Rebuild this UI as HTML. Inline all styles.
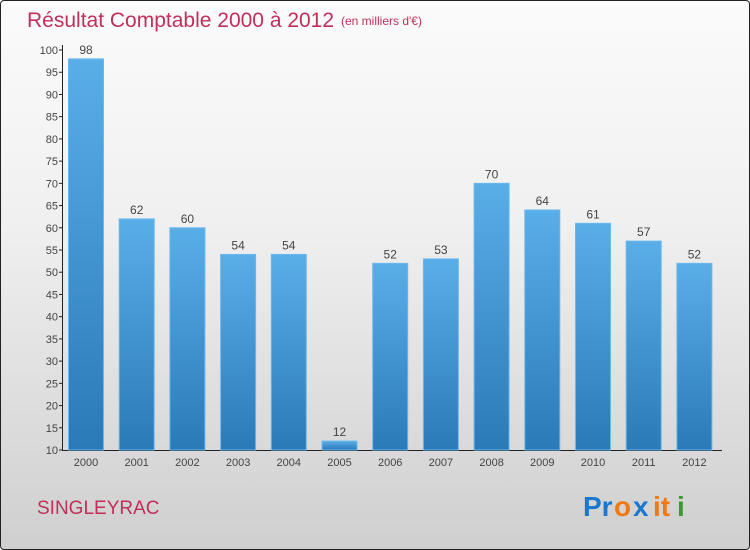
<!DOCTYPE html>
<html><head><meta charset="utf-8"><style>
body{margin:0}
#c{position:relative;width:748px;height:548px;border:1px solid #222;border-radius:4px;background:linear-gradient(#fbfbfb,#f0f0f0 40%,#cfcfcf);overflow:hidden;font-family:"Liberation Sans",sans-serif}
</style></head><body>
<div id="c">
<svg width="748" height="548">
<defs><linearGradient id="g" x1="0" y1="0" x2="0" y2="1"><stop offset="0" stop-color="#5aaee8"/><stop offset="1" stop-color="#2a7ab8"/></linearGradient></defs>
<text x="26" y="26" font-size="21" fill="#c0305a">Résultat Comptable 2000 à 2012</text>
<text x="340" y="24" font-size="12" fill="#c0305a">(en milliers d'€)</text>
<g id="ax"></g><g id="bars"></g>
<text x="36" y="513" font-size="19" fill="#c0305a">SINGLEYRAC</text>
<g font-size="28" font-weight="bold"><text x="582" y="515" fill="#1a78d0">Pr</text><text x="613" y="515" fill="#f07a10">o</text><text x="632" y="515" fill="#1a78d0">x</text><text x="652" y="515" fill="#f07a10">it</text><text x="676" y="515" fill="#3a9a30">i</text></g>
</svg></div>
<script>
const years=["2000","2001","2002","2003","2004","2005","2006","2007","2008","2009","2010","2011","2012"];
const values=[98,62,60,54,54,12,52,53,70,64,61,57,52];
const yTicks=[10,15,20,25,30,35,40,45,50,55,60,65,70,75,80,85,90,95,100];
const NS="http://www.w3.org/2000/svg";
const y=v=>449-(v-10)*400/90;
const x=i=>84.5+i*50.7;
function mk(t,a,p,txt){const e=document.createElementNS(NS,t);for(const k in a)e.setAttribute(k,a[k]);if(txt!==undefined)e.textContent=txt;p.appendChild(e);return e;}
const ax=document.getElementById('ax'),bars=document.getElementById('bars');
let l=mk('line',{x1:61.5,y1:44,x2:61.5,y2:450,stroke:'#222'},ax);


l=mk('line',{x1:61,y1:449.5,x2:721,y2:449.5,stroke:'#222'},ax);


yTicks.forEach(v=>{
 mk('line',{x1:58,x2:62,y1:y(v),y2:y(v),stroke:'#222'},ax);
 const t=mk('text',{x:57,y:y(v)+4,'font-size':11,fill:'#444','text-anchor':'end'},ax,v);
 
 
});
years.forEach((yr,i)=>{
 const v=values[i];
 const r=mk('rect',{x:x(i)-17,y:y(v),width:35,height:449-y(v),fill:'url(#g)',stroke:'#6ab8ee','stroke-width':1},bars);
 
 
 const t=mk('text',{x:x(i)+0.5,y:y(v)-5,'font-size':12,fill:'#444','text-anchor':'middle'},bars,v);
 
 
 const xl=mk('text',{x:x(i)+0.5,y:465,'font-size':11,fill:'#444','text-anchor':'middle'},ax,yr);
 
 
});
</script>
</body></html>
